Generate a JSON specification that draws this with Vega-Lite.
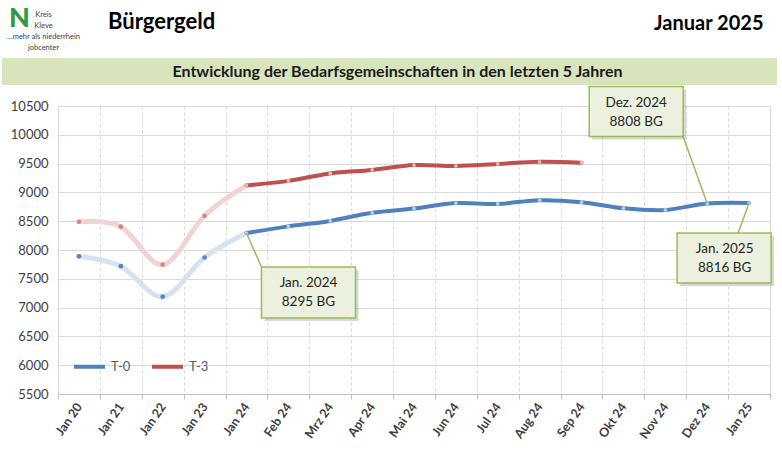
{
  "$schema": "https://vega.github.io/schema/vega-lite/v6.json",
  "background": "white",
  "padding": {"left": 2, "right": 5, "top": 5, "bottom": 0},
  "config": {
    "font": "Lato",
    "view": {"stroke": null},
    "title": {"font": "Lato", "color": "#000000", "fontWeight": "bold"}
  },
  "title": {"text": "N", "anchor": "start", "dx": 7, "offset": -23, "fontSize": 27, "fontWeight": 900, "color": "#2e9a44"},
  "datasets": {
    "bg": [
      {"monat": "Jan 20", "reihe": "T-0", "zeitraum": "Jahreswerte", "bg": 7890},
      {"monat": "Jan 21", "reihe": "T-0", "zeitraum": "Jahreswerte", "bg": 7720},
      {"monat": "Jan 22", "reihe": "T-0", "zeitraum": "Jahreswerte", "bg": 7190},
      {"monat": "Jan 23", "reihe": "T-0", "zeitraum": "Jahreswerte", "bg": 7870},
      {"monat": "Jan 24", "reihe": "T-0", "zeitraum": "Monatswerte", "bg": 8295},
      {"monat": "Feb 24", "reihe": "T-0", "zeitraum": "Monatswerte", "bg": 8410},
      {"monat": "Mrz 24", "reihe": "T-0", "zeitraum": "Monatswerte", "bg": 8505},
      {"monat": "Apr 24", "reihe": "T-0", "zeitraum": "Monatswerte", "bg": 8645},
      {"monat": "Mai 24", "reihe": "T-0", "zeitraum": "Monatswerte", "bg": 8720},
      {"monat": "Jun 24", "reihe": "T-0", "zeitraum": "Monatswerte", "bg": 8815},
      {"monat": "Jul 24", "reihe": "T-0", "zeitraum": "Monatswerte", "bg": 8800},
      {"monat": "Aug 24", "reihe": "T-0", "zeitraum": "Monatswerte", "bg": 8865},
      {"monat": "Sep 24", "reihe": "T-0", "zeitraum": "Monatswerte", "bg": 8830},
      {"monat": "Okt 24", "reihe": "T-0", "zeitraum": "Monatswerte", "bg": 8725},
      {"monat": "Nov 24", "reihe": "T-0", "zeitraum": "Monatswerte", "bg": 8695},
      {"monat": "Dez 24", "reihe": "T-0", "zeitraum": "Monatswerte", "bg": 8808},
      {"monat": "Jan 25", "reihe": "T-0", "zeitraum": "Monatswerte", "bg": 8816},
      {"monat": "Jan 20", "reihe": "T-3", "zeitraum": "Jahreswerte", "bg": 8490},
      {"monat": "Jan 21", "reihe": "T-3", "zeitraum": "Jahreswerte", "bg": 8405},
      {"monat": "Jan 22", "reihe": "T-3", "zeitraum": "Jahreswerte", "bg": 7745},
      {"monat": "Jan 23", "reihe": "T-3", "zeitraum": "Jahreswerte", "bg": 8595},
      {"monat": "Jan 24", "reihe": "T-3", "zeitraum": "Monatswerte", "bg": 9120},
      {"monat": "Feb 24", "reihe": "T-3", "zeitraum": "Monatswerte", "bg": 9200},
      {"monat": "Mrz 24", "reihe": "T-3", "zeitraum": "Monatswerte", "bg": 9330},
      {"monat": "Apr 24", "reihe": "T-3", "zeitraum": "Monatswerte", "bg": 9390},
      {"monat": "Mai 24", "reihe": "T-3", "zeitraum": "Monatswerte", "bg": 9475},
      {"monat": "Jun 24", "reihe": "T-3", "zeitraum": "Monatswerte", "bg": 9460},
      {"monat": "Jul 24", "reihe": "T-3", "zeitraum": "Monatswerte", "bg": 9495},
      {"monat": "Aug 24", "reihe": "T-3", "zeitraum": "Monatswerte", "bg": 9530},
      {"monat": "Sep 24", "reihe": "T-3", "zeitraum": "Monatswerte", "bg": 9515}
    ],
    "notes": [
      {"id": "a", "monat": "Jan 24", "bg": 8295, "label": "Jan. 2024\n8295 BG"},
      {"id": "b", "monat": "Dez 24", "bg": 8808, "label": "Dez. 2024\n8808 BG"},
      {"id": "c", "monat": "Jan 25", "bg": 8816, "label": "Jan. 2025\n8816 BG"}
    ]
  },
  "spacing": -3,
  "vconcat": [
    {
      "width": 775,
      "height": 27,
      "title": {"text": "Bürgergeld", "anchor": "start", "frame": "group", "dx": 106, "offset": -23.5, "fontSize": 22},
      "data": {"values": [{"t": "Entwicklung der Bedarfsgemeinschaften in den letzten 5 Jahren"}]},
      "encoding": {
        "x": {"field": "t", "type": "nominal", "scale": {"paddingInner": 0, "paddingOuter": 0}, "axis": null},
        "y": {"field": "t", "type": "nominal", "scale": {"paddingInner": 0, "paddingOuter": 0}}
      },
      "layer": [
        {
          "mark": {"type": "rect", "color": "#d8e4bc"},
          "encoding": {
            "y": {
              "field": "t",
              "type": "nominal",
              "axis": {
                "orient": "left",
                "labels": false,
                "ticks": false,
                "domain": false,
                "grid": false,
                "title": ["Kreis", "Kleve", "…mehr als niederrhein", "jobcenter"],
                "titleAngle": 0,
                "titleX": 41,
                "titleY": -48,
                "titleAlign": "center",
                "titleBaseline": "top",
                "titleFont": "Lato",
                "titleFontSize": 7.5,
                "titleFontWeight": "normal",
                "titleLineHeight": 11,
                "titleColor": "#404040"
              }
            }
          }
        },
        {
          "mark": {"type": "text", "font": "Lato", "fontSize": 16, "fontWeight": "bold", "color": "#1a1a1a", "dx": 8},
          "encoding": {
            "text": {"field": "t", "type": "nominal"},
            "y": {
              "field": "t",
              "type": "nominal",
              "axis": {
                "orient": "right",
                "labels": false,
                "ticks": false,
                "domain": false,
                "grid": false,
                "title": "Januar 2025",
                "titleAngle": 0,
                "titleX": -14,
                "titleY": -45,
                "titleAlign": "right",
                "titleBaseline": "top",
                "titleFont": "Lato",
                "titleFontSize": 20,
                "titleFontWeight": "bold",
                "titleColor": "#000000"
              }
            }
          }
        }
      ],
      "resolve": {"axis": {"y": "independent"}}
    },
    {
      "spacing": 0,
      "hconcat": [
        {"width": 7, "height": 288, "data": {"values": []}, "mark": "point"},
        {
          "width": 712,
          "height": 288,
          "view": {"stroke": "#d9d9d9"},
          "data": {"name": "bg"},
          "encoding": {
            "x": {
              "field": "monat",
              "type": "nominal",
              "sort": null,
              "scale": {
                "type": "band",
                "domain": ["Jan 20", "Jan 21", "Jan 22", "Jan 23", "Jan 24", "Feb 24", "Mrz 24", "Apr 24", "Mai 24", "Jun 24", "Jul 24", "Aug 24", "Sep 24", "Okt 24", "Nov 24", "Dez 24", "Jan 25"],
                "paddingInner": 0,
                "paddingOuter": 0
              },
              "axis": {
                "title": null,
                "labelAngle": -55,
                "labelAlign": "right",
                "labelBaseline": "middle",
                "labelFont": "Lato",
                "labelFontSize": 12.5,
                "labelFontWeight": "bold",
                "labelColor": "#404040",
                "labelPadding": 5,
                "labelOverlap": false,
                "tickBand": "extent",
                "tickSize": 5,
                "tickColor": "#bfbfbf",
                "domainColor": "#bfbfbf",
                "grid": true,
                "gridColor": "#d9d9d9",
                "gridDash": [3, 3]
              }
            },
            "y": {
              "field": "bg",
              "type": "quantitative",
              "scale": {"domain": [5500, 10500], "nice": false, "zero": false},
              "axis": {
                "values": [5500, 6000, 6500, 7000, 7500, 8000, 8500, 9000, 9500, 10000, 10500],
                "format": "d",
                "title": null,
                "labelFont": "Lato",
                "labelFontSize": 13,
                "labelColor": "#404040",
                "labelPadding": 10,
                "ticks": false,
                "tickSize": 0,
                "domain": true,
                "domainColor": "#d9d9d9",
                "gridColor": "#d9d9d9",
                "gridWidth": 1.2
              }
            }
          },
          "layer": [
            {
              "transform": [{"filter": "datum.zeitraum == 'Jahreswerte' || datum.monat == 'Jan 24'"}],
              "mark": {"type": "line", "interpolate": "cardinal", "strokeWidth": 5, "strokeCap": "round"},
              "encoding": {
                "color": {"field": "reihe", "type": "nominal", "scale": {"domain": ["T-0", "T-3"], "range": ["#d6e2f0", "#f0d4d3"]}, "legend": null}
              }
            },
            {
              "transform": [{"filter": "datum.zeitraum == 'Jahreswerte'"}],
              "mark": {"type": "point", "filled": true, "size": 22, "opacity": 1},
              "encoding": {
                "color": {"field": "reihe", "type": "nominal", "scale": {"domain": ["T-0", "T-3"], "range": ["#5585c3", "#d48886"]}, "legend": null}
              }
            },
            {
              "transform": [{"filter": "datum.zeitraum == 'Monatswerte'"}],
              "mark": {"type": "line", "interpolate": "cardinal", "strokeWidth": 4, "strokeCap": "round"},
              "encoding": {
                "color": {
                  "field": "reihe",
                  "type": "nominal",
                  "scale": {"domain": ["T-0", "T-3"], "range": ["#4f81bd", "#c0504d"]},
                  "legend": {
                    "title": null,
                    "orient": "none",
                    "legendX": 14,
                    "legendY": 243,
                    "direction": "horizontal",
                    "symbolType": "stroke",
                    "symbolSize": 961,
                    "symbolStrokeWidth": 4,
                    "labelFont": "Lato",
                    "labelFontSize": 13,
                    "labelColor": "#595959",
                    "labelOffset": 4,
                    "columnPadding": 13
                  }
                }
              }
            },
            {
              "transform": [{"filter": "datum.zeitraum == 'Monatswerte'"}],
              "mark": {"type": "point", "filled": true, "size": 14, "opacity": 1},
              "encoding": {
                "color": {"field": "reihe", "type": "nominal", "scale": {"domain": ["T-0", "T-3"], "range": ["#b9cde5", "#e6b9b8"]}, "legend": null}
              }
            },
            {
              "data": {"name": "notes"},
              "mark": {"type": "point", "filled": true, "size": 4, "color": "#8c8c8c", "opacity": 0.35, "strokeWidth": 0},
              "encoding": {
                "shape": {
                  "field": "id",
                  "type": "nominal",
                  "scale": {"domain": ["a", "b", "c"], "range": ["M18,37H112V88H18Z", "M-115,-114H-21V-64H-115Z", "M-69,33H25V83H-69Z"]},
                  "legend": null
                }
              }
            },
            {
              "data": {"name": "notes"},
              "mark": {"type": "point", "filled": true, "size": 4, "fill": "#ebf1de", "stroke": "#9bbb59", "strokeWidth": 1.5, "opacity": 1},
              "encoding": {
                "shape": {
                  "field": "id",
                  "type": "nominal",
                  "scale": {"domain": ["a", "b", "c"], "range": ["M0,0L15,34M15,34H109V85H15Z", "M0,0L-24,-67M-118,-117H-24V-67H-118Z", "M0,0L-11,30M-72,30H22V80H-72Z"]},
                  "legend": null
                }
              }
            },
            {
              "data": {"name": "notes"},
              "transform": [{"filter": "datum.id == 'a'"}],
              "mark": {"type": "text", "font": "Lato", "fontSize": 13.5, "color": "#262626", "align": "center", "baseline": "top", "lineBreak": "\n", "lineHeight": 19, "dx": 62, "dy": 43},
              "encoding": {"text": {"field": "label", "type": "nominal"}}
            },
            {
              "data": {"name": "notes"},
              "transform": [{"filter": "datum.id == 'b'"}],
              "mark": {"type": "text", "font": "Lato", "fontSize": 13.5, "color": "#262626", "align": "center", "baseline": "top", "lineBreak": "\n", "lineHeight": 19, "dx": -71, "dy": -107},
              "encoding": {"text": {"field": "label", "type": "nominal"}}
            },
            {
              "data": {"name": "notes"},
              "transform": [{"filter": "datum.id == 'c'"}],
              "mark": {"type": "text", "font": "Lato", "fontSize": 13.5, "color": "#262626", "align": "center", "baseline": "top", "lineBreak": "\n", "lineHeight": 19, "dx": -24.4, "dy": 39},
              "encoding": {"text": {"field": "label", "type": "nominal"}}
            }
          ],
          "resolve": {"scale": {"color": "independent", "shape": "independent"}}
        }
      ]
    }
  ]
}
